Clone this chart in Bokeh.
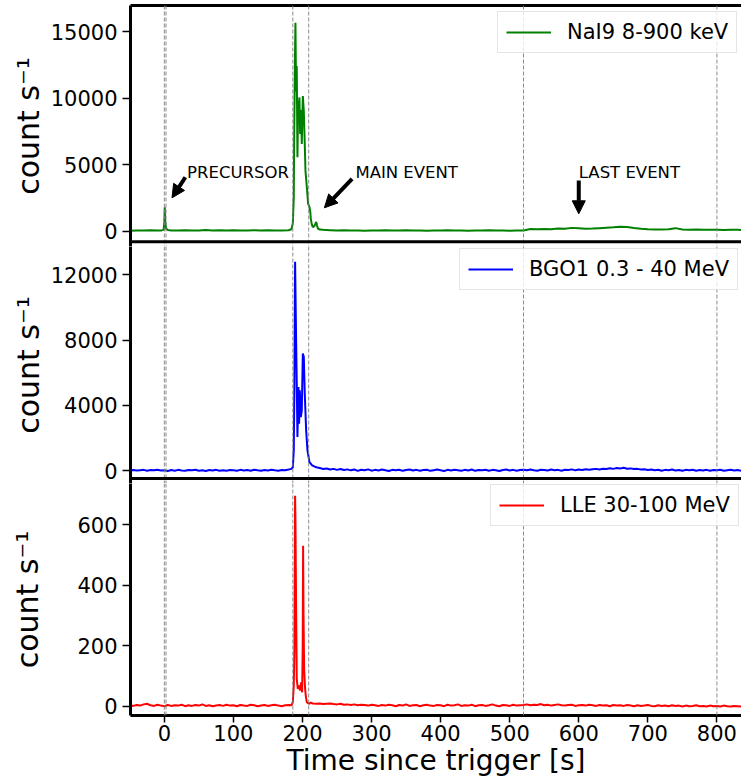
from bokeh.plotting import figure
from bokeh.layouts import column
from bokeh.models import (Range1d, FixedTicker, LinearAxis, Span, Arrow, NormalHead,
                          Label, Legend, LegendItem)
from bokeh.embed import file_html
from bokeh.resources import INLINE

FONT = "DejaVu Sans"

# ---------------- data ----------------
# shared time bins (s) for the BGO / LLE backgrounds
grid_pre = [-49, -45, -40, -35, -30, -25, -20, -15, -10, -5, 0, 5, 10, 15, 20, 25, 30, 35,
            40, 45, 50, 55, 60, 65, 70, 75, 80, 85, 90, 95, 100, 105, 110, 115, 120, 125,
            130, 135, 140, 145, 150, 155, 160, 165, 170, 175, 180]
grid_post = [225, 230, 235, 240, 245, 250, 255, 260, 265, 270,
             275, 280, 285, 290, 295, 300, 305, 310, 315, 320,
             325, 330, 335, 340, 345, 350, 355, 360, 365, 370,
             375, 380, 385, 390, 395, 400, 405, 410, 415, 420,
             425, 430, 435, 440, 445, 450, 455, 460, 465, 470,
             475, 480, 485, 490, 495, 500, 505, 510, 515, 520,
             525, 530, 535, 540, 545, 550, 555, 560, 565, 570,
             575, 580, 585, 590, 595, 600, 605, 610, 615, 620,
             625, 630, 635, 640, 645, 650, 655, 660, 665, 670,
             675, 680, 685, 690, 695, 700, 705, 710, 715, 720,
             725, 730, 735, 740, 745, 750, 755, 760, 765, 770,
             775, 780, 785, 790, 795, 800, 805, 810, 815, 820,
             825, 830, 835]

# NaI9 8-900 keV
nai_t_pre = [-49, -40, -30, -20, -10, -4, -1, 0, 0.6, 1.2, 2.5, 5, 10, 20, 30, 40, 50, 60,
             70, 80, 90, 100, 110, 120, 130, 140, 150, 160, 170, 180]
nai_v_pre = [40, 60, 50, 70, 50, 60, 100, 700, 1800, 800, 200, 90, 60, 50, 80, 50, 60, 90,
             60, 70, 50, 80, 60, 50, 70, 60, 80, 50, 60, 70]
nai_t_burst = [184, 186, 187.4, 187.9, 189.0, 189.8, 190.7, 191.7, 192.7, 193.4, 194.2,
               195.6, 196.6, 198.0, 199.0, 200.5, 201.9, 203.3, 204.3, 206.3, 208.2, 210.1,
               211.2, 212.1, 213.5, 215, 217.5, 219.9, 221, 222.3, 225, 230, 235]
nai_v_burst = [150, 600, 2550, 6550, 12500, 15650, 10500, 12400, 5550, 8200, 9300,
               10050, 7300, 9100, 6550, 10150, 9050, 6550, 4550, 3300, 2050, 1800,
               1500, 925, 500, 300, 400, 700, 450, 200, 120, 100, 90]
nai_t_post = [240, 250, 260, 270, 280, 290, 300, 310, 320, 330,
              340, 350, 360, 370, 380, 390, 400, 410, 420, 430,
              440, 450, 460, 470, 480, 490, 500, 510, 520, 530,
              540, 550, 560, 570, 580, 590, 600, 610, 620, 630,
              640, 650, 660, 670, 680, 690, 700, 710, 720, 730,
              740, 750, 760, 770, 780, 790, 800, 810, 820, 830, 840]
nai_v_post = [80, 60, 70, 50, 60, 40, 60, 50, 70, 50,
              60, 80, 50, 60, 40, 60, 50, 70, 50, 60,
              40, 60, 50, 70, 50, 60, 40, 50, 60, 160,
              140, 170, 150, 200, 180, 250, 220, 190, 200, 230,
              260, 290, 330, 310, 240, 180, 140, 130, 120, 150,
              230, 130, 110, 120, 100, 110, 100, 90, 110, 100, 90]

# BGO1 0.3 - 40 MeV
bgo_v_pre = [10, 30, 0, 20, 40, -10, 30, 10, 50, 0,
             20, -30, 30, -10, 40, 0, -20, 30, 10, 50,
             -10, 20, -30, 30, 0, 40, -20, 20, -10, 30,
             10, -20, 40, 0, 30, -10, 50, 10, -20, 30,
             0, 40, 10, -10, 30, 20, 60]
bgo_t_burst = [184, 186, 187.4, 188.3, 189.3, 190.7, 191.7, 192.7, 194.2, 195.1,
               196.1, 197.6, 199.0, 200.5, 201.9, 203.3, 205.3, 207.2, 210.1, 214,
               217, 220]
bgo_v_burst = [100, 200, 1230, 5330, 12800, 8200, 5330, 2050, 5120, 2870,
               4920, 3280, 3690, 7180, 6970, 4720, 2460, 1230, 510, 310,
               250, 200]
bgo_v_post = [150, 90, 120, 60, 100, 40, 90, 30, 70, 10,
              60, -20, 50, 20, 70, -10, 40, 0, 60, 20,
              -30, 40, 10, 50, -20, 30, 60, 0, 40, -10,
              30, 50, -20, 20, 60, 10, -30, 40, 0, 50,
              20, -10, 40, 0, 60, -20, 30, 10, 50, -10,
              40, 20, -30, 30, 60, 0, 40, -10, 30, 50,
              10, 60, 20, -10, 50, 30, 0, 60, 20, 40,
              -10, 50, 30, 70, 10, 60, 30, 80, 40, 70,
              100, 60, 110, 90, 140, 100, 150, 120, 170, 110,
              130, 90, 100, 60, 80, 30, 60, 10, 50, -10,
              40, 20, 60, 0, 30, -20, 40, 10, 50, -10,
              30, 0, 40, -20, 30, 10, 50, -10, 20, 40,
              0, 30, -10]

# LLE 30-100 MeV
lle_v_pre = [3, 1, 4, 2, 6, 8, 3, 1, 5, 2,
             0, 4, 1, 3, 2, 5, 0, 3, 1, 4,
             2, 6, 1, 3, 0, 2, 4, 1, 5, 2,
             3, 0, 4, 2, 1, 5, 3, 0, 2, 4,
             1, 3, 5, 2, 0, 3, 4]
lle_t_burst = [184, 186, 187.4, 188.3, 189.3, 189.9, 190.7, 191.7, 193.2, 194.6,
               196.6, 198.0, 199.5, 200.3, 200.9, 201.5, 202.4, 203.8, 205, 206.3,
               208, 210, 212, 215, 220]
lle_v_burst = [3, 13, 68, 190, 695, 600, 343, 90, 57, 68,
               52, 79, 46, 200, 530, 300, 123, 57, 30, 13,
               10, 8, 12, 9, 8]
lle_v_post = [9, 7, 8, 9, 7, 6, 8, 5, 6, 4,
              6, 3, 5, 4, 2, 5, 3, 1, 4, 2,
              5, 3, 0, 4, 2, 6, 1, 3, 4, 0,
              3, 5, 2, 1, 4, 3, 0, 5, 2, 3,
              6, 1, 3, 2, 5, 0, 3, 4, 1, 3,
              6, 2, 0, 4, 3, 1, 5, 2, 3, 4,
              6, 3, 5, 4, 7, 3, 5, 2, 4, 6,
              3, 2, 4, 5, 1, 3, 4, 2, 5, 3,
              1, 4, 2, 3, 0, 4, 2, 3, 1, 4,
              2, 0, 3, 1, 2, 4, 1, 0, 3, 1,
              2, 0, 3, 1, 2, -1, 2, 0, 1, 3,
              0, 1, -1, 2, 0, 1, -1, 2, 0, -1,
              1, 0, -1]

labels = ["NaI9 8-900 keV", "BGO1 0.3 - 40 MeV", "LLE 30-100 MeV"]
colors = ["#008000", "#0000ff", "#ff0000"]
y_ticks = [[0, 5000, 10000, 15000], [0, 4000, 8000, 12000], [0, 200, 400, 600]]
x_ticks = [0, 100, 200, 300, 400, 500, 600, 700, 800]
event_lines = [0, 2.4, 186, 209, 520, 800]

# annotations (top panel): text, text anchor, arrow tail, arrow tip
ann_text = ["PRECURSOR", "MAIN EVENT", "LAST EVENT"]
ann_xy = [(32.9, 4400), (276.6, 4400), (600, 4420)]
arrow_from = [(30.4, 4050), (271.8, 3935), (600, 3808)]
arrow_to = [(11.1, 2508), (231.7, 1757), (600, 1307)]

for a, b in [(grid_pre, bgo_v_pre), (grid_pre, lle_v_pre), (grid_post, bgo_v_post),
             (grid_post, lle_v_post), (nai_t_pre, nai_v_pre), (nai_t_burst, nai_v_burst),
             (nai_t_post, nai_v_post), (bgo_t_burst, bgo_v_burst), (lle_t_burst, lle_v_burst)]:
    assert len(a) == len(b), (len(a), len(b))

series_t = [nai_t_pre + nai_t_burst + nai_t_post,
            grid_pre + bgo_t_burst + grid_post,
            grid_pre + lle_t_burst + grid_post]
series_v = [nai_v_pre + nai_v_burst + nai_v_post,
            bgo_v_pre + bgo_v_burst + bgo_v_post,
            lle_v_pre + lle_v_burst + lle_v_post]

# ---------------- layout ----------------
x_range = Range1d(-49, 835.6)
y_ranges = [(-1149, 16953), (-797, 13736), (-30.7, 735.4)]
separator_at = [-796, -490.6, None]      # panel separators (data units of upper panel)
heights = [246, 237, 297]
tops = [5, 0, 0]
bottoms = [0, 0, 65]
legend_loc = [(367, 193), (329, 193), (360, 189)]
ylabel_standoff = [2, 2, 29]

figs = []
for i in range(3):
    last = (i == 2)
    p = figure(width=741, height=heights[i], x_range=x_range,
               y_range=Range1d(*y_ranges[i]), output_backend="svg",
               toolbar_location=None, x_axis_location="below" if last else None,
               min_border_left=130, min_border_right=0,
               min_border_top=tops[i], min_border_bottom=bottoms[i])
    p.outline_line_color = None
    p.grid.visible = False
    p.background_fill_color = "white"
    p.border_fill_color = "white"

    if i == 0:
        top_ax = LinearAxis(ticker=FixedTicker(ticks=[]), axis_line_width=3,
                            axis_line_color="black", major_tick_out=0, major_tick_in=0,
                            minor_tick_out=0, minor_tick_in=0, major_label_standoff=0,
                            major_label_text_font_size="0px")
        p.add_layout(top_ax, "above")

    # y axis
    ya = p.yaxis[0]
    ya.ticker = FixedTicker(ticks=y_ticks[i])
    ya.axis_line_width = 3
    ya.axis_line_color = "black"
    ya.major_tick_out = 8
    ya.major_tick_in = 0
    ya.major_tick_line_width = 1.5
    ya.minor_tick_line_color = None
    ya.major_label_text_font = FONT
    ya.major_label_text_font_size = "21px"
    ya.major_label_text_color = "black"
    ya.major_label_standoff = 5
    ya.axis_label = "count s⁻¹"
    ya.axis_label_text_font = FONT
    ya.axis_label_text_font_size = "30px"
    ya.axis_label_text_font_style = "normal"
    ya.axis_label_text_color = "black"
    ya.axis_label_standoff = ylabel_standoff[i]

    if last:
        xa = p.below[0]
        xa.ticker = FixedTicker(ticks=x_ticks)
        xa.axis_line_width = 3
        xa.axis_line_color = "black"
        xa.major_tick_out = 7
        xa.major_tick_in = 0
        xa.major_tick_line_width = 1.5
        xa.minor_tick_line_color = None
        xa.major_label_text_font = FONT
        xa.major_label_text_font_size = "21px"
        xa.major_label_text_color = "black"
        xa.major_label_standoff = 2
        xa.axis_label = "Time since trigger [s]"
        xa.axis_label_text_font = FONT
        xa.axis_label_text_font_size = "28px"
        xa.axis_label_text_font_style = "normal"
        xa.axis_label_text_color = "black"
        xa.axis_label_standoff = 0

    r = p.line(series_t[i], series_v[i], line_color=colors[i], line_width=2)

    for loc in event_lines:
        p.add_layout(Span(location=loc, dimension="height", line_color="#808080",
                          line_width=1, line_dash="4 2", line_alpha=0.9))

    if separator_at[i] is not None:
        p.add_layout(Span(location=separator_at[i], dimension="width",
                          line_color="black", line_width=3))

    leg = Legend(items=[LegendItem(label=labels[i], renderers=[r])],
                 location=legend_loc[i], label_text_font=FONT,
                 label_text_font_size="21px", label_text_color="black",
                 glyph_width=45, glyph_height=20, label_standoff=16, padding=8,
                 spacing=0, margin=0, border_line_color="#cccccc", border_line_width=1,
                 background_fill_color="white", background_fill_alpha=0.8)
    p.add_layout(leg)

    if i == 0:
        for txt, (tx, ty), (ax0, ay0), (ax1, ay1) in zip(ann_text, ann_xy, arrow_from, arrow_to):
            p.add_layout(Label(x=tx, y=ty, text=txt, text_font=FONT,
                               text_font_size="16.5px", text_color="black",
                               text_baseline="alphabetic", text_align="left"))
            p.add_layout(Arrow(x_start=ax0, y_start=ay0, x_end=ax1, y_end=ay1,
                               line_width=4, line_color="black",
                               end=NormalHead(size=13, fill_color="black",
                                              line_color="black", line_width=1)))
    figs.append(p)

layout = column(*figs, spacing=0)
open("out.html", "w").write(file_html(layout, INLINE))
